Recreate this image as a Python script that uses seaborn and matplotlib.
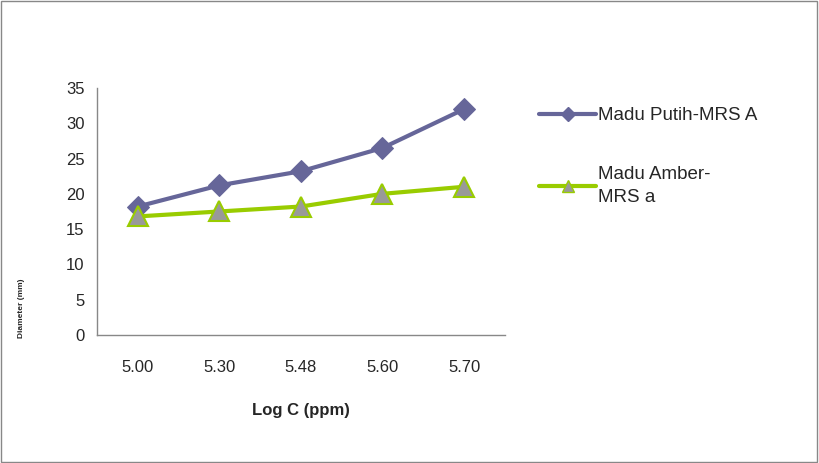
import pandas as pd
import matplotlib
matplotlib.use('Agg')
import matplotlib.pyplot as plt
import seaborn as sns
from matplotlib.patches import Rectangle
from matplotlib.lines import Line2D

# ── Data ──────────────────────────────────────────────────────
log_c = ['5.00', '5.30', '5.48', '5.60', '5.70']
putih = [18.2, 21.2, 23.2, 26.5, 32.0]
amber = [16.8, 17.5, 18.2, 20.0, 21.0]
series_names = ['Madu Putih-MRS A', 'Madu Amber-\nMRS a']

df = pd.DataFrame({
    'pos': list(range(len(log_c))) * 2,
    'value': putih + amber,
    'series': [series_names[0]] * len(log_c) + [series_names[1]] * len(log_c),
})

sns.set_style('white')
plt.rcParams['font.family'] = ['Liberation Sans', 'DejaVu Sans']

fig = plt.figure(figsize=(8.19, 4.63), dpi=100)
ax = fig.add_axes([0.1184, 0.2765, 0.498, 0.5335])

palette = {series_names[0]: '#666699', series_names[1]: '#99cc00'}
sns.lineplot(data=df, x='pos', y='value', hue='series', style='series',
             palette=palette, markers={series_names[0]: 'D', series_names[1]: '^'},
             dashes=False, linewidth=3, markersize=11, ax=ax, legend=False)

# marker styling: purple diamond, grey triangle with green edge
lines = ax.get_lines()
lines[0].set_markerfacecolor('#666699')
lines[0].set_markeredgecolor('#666699')
lines[1].set_markerfacecolor('#999999')
lines[1].set_markeredgecolor('#99cc00')
lines[1].set_markeredgewidth(1.5)
lines[1].set_markersize(15)

ax.set_xlim(-0.5, len(log_c) - 0.5)
ax.set_ylim(0, 35)
ax.set_yticks(range(0, 36, 5))
ax.set_xticks([i - 0.5 for i in range(len(log_c) + 1)])
ax.set_xticklabels([])
ax.set_xticks(range(len(log_c)), minor=True)
ax.set_xticklabels(log_c, minor=True)
ax.tick_params(axis='x', which='minor', length=0, pad=18, labelsize=12)
ax.tick_params(axis='x', which='major', length=5, color='#888888', direction='out')
ax.tick_params(axis='y', length=5, color='#888888', direction='out', labelsize=12, pad=4)

for s in ['top', 'right']:
    ax.spines[s].set_visible(False)
for s in ['left', 'bottom']:
    ax.spines[s].set_color('#888888')
    ax.spines[s].set_linewidth(1)

ax.set_xlabel('Log C (ppm)', fontsize=12, fontweight='bold', labelpad=20)
ax.set_ylabel('')
fig.text(0.026, 0.335, 'Diameter (mm)', rotation=90, fontsize=6,
         fontweight='bold', ha='center', va='center')

# legend on the right
handles = [
    Line2D([], [], color='#666699', lw=3, marker='D', markersize=7,
           markerfacecolor='#666699', markeredgecolor='#666699'),
    Line2D([], [], color='#99cc00', lw=3, marker='^', markersize=9,
           markerfacecolor='#999999', markeredgecolor='#99cc00'),
]
leg = fig.legend(handles, series_names, loc='upper left', bbox_to_anchor=(0.638, 0.805),
                 frameon=False, fontsize=13.5, handlelength=3.0, handletextpad=0.1,
                 labelspacing=2.2)
for t in leg.get_texts():
    t.set_linespacing(1.5)

fig.patches.append(Rectangle((0.001, 0.002), 0.996, 0.995, transform=fig.transFigure,
                             fill=False, edgecolor='#888888', linewidth=1))

plt.savefig('out.png', dpi=100)
plt.close()
